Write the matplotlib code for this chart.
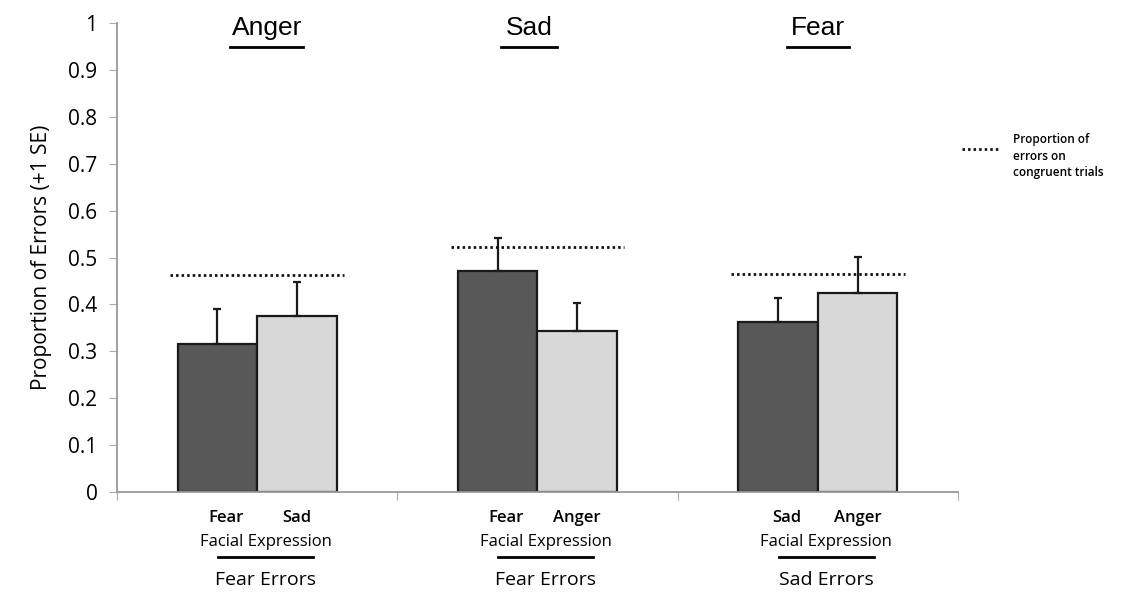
import matplotlib
matplotlib.use("Agg")
import matplotlib.pyplot as plt
from matplotlib.lines import Line2D
import matplotlib.transforms as mtransforms
import numpy as np

# emotion shown in each panel, and the error type it is scored on
panel_titles = ["Anger", "Sad", "Fear"]
error_types = ["Fear Errors", "Fear Errors", "Sad Errors"]
dark_labels = ["Fear", "Fear", "Sad"]
light_labels = ["Sad", "Anger", "Anger"]

# mean proportion of errors and +1 SE top
dark_vals = [0.316, 0.471, 0.362]
dark_err = [0.074, 0.070, 0.051]
light_vals = [0.375, 0.343, 0.424]
light_err = [0.073, 0.060, 0.077]

# congruent-trial error rate per panel
congruent = [0.463, 0.522, 0.465]

DOTS = (0, (0.9, 1.1))

fig = plt.figure(figsize=(11.28, 5.93), dpi=100)
ax = fig.add_axes([0.1037, 0.1703, 0.7455, 0.7907])

centers = np.arange(3) + 0.5
w = 0.284
dark_x = centers - w / 2
light_x = centers + w / 2

ax.bar(dark_x, dark_vals, width=w, color="#585858", edgecolor="#1a1a1a", linewidth=1.6, zorder=2)
ax.bar(light_x, light_vals, width=w, color="#d8d8d8", edgecolor="#1a1a1a", linewidth=1.6, zorder=2)
ax.errorbar(dark_x, dark_vals, yerr=[np.zeros(3), dark_err], fmt="none",
            ecolor="#1a1a1a", elinewidth=1.6, capsize=3, capthick=1.6, zorder=3)
ax.errorbar(light_x, light_vals, yerr=[np.zeros(3), light_err], fmt="none",
            ecolor="#1a1a1a", elinewidth=1.6, capsize=3, capthick=1.6, zorder=3)

# dotted congruent lines across each pair of bars
for c, v in zip(centers, congruent):
    ax.plot([c - 0.31, c + 0.31], [v, v], color="#111111", lw=2.0,
            linestyle=DOTS, dash_capstyle="butt", zorder=4)

ax.set_xlim(0, 3)
ax.set_ylim(0, 1)
ax.set_yticks(np.arange(0, 1.01, 0.1))
ax.set_yticklabels(["0", "0.1", "0.2", "0.3", "0.4", "0.5", "0.6", "0.7", "0.8", "0.9", "1"],
                   fontsize=15, family="Open Sans", weight="medium")
ax.set_xticks([0, 1, 2, 3])
ax.set_xticklabels([])
ax.tick_params(axis="y", direction="out", length=6, color="#aaaaaa", pad=8)
ax.tick_params(axis="x", direction="out", length=6, color="#aaaaaa")
for s in ["top", "right"]:
    ax.spines[s].set_visible(False)
ax.spines["left"].set_color("#999999")
ax.spines["bottom"].set_color("#999999")
ax.spines["left"].set_linewidth(1.3)
ax.spines["bottom"].set_linewidth(1.3)

ax.set_ylabel("Proportion of Errors (+1 SE)", fontsize=15, family="Open Sans", labelpad=12)

# panel titles with underlines
trans = mtransforms.blended_transform_factory(ax.transData, ax.transAxes)
title_x = [0.535, 1.47, 2.50]
title_w = [0.26, 0.20, 0.22]
for tx, tw, t in zip(title_x, title_w, panel_titles):
    ax.text(tx, 0.99, t, transform=trans, ha="center", va="center",
            fontsize=19, family="Liberation Sans", clip_on=False)
    ax.add_line(Line2D([tx - tw / 2, tx + tw / 2], [0.949, 0.949], transform=trans,
                       color="black", lw=2, clip_on=False))

# category labels under the axis
for i in range(3):
    ax.text(dark_x[i] + 0.03, -0.055, dark_labels[i], transform=trans, ha="center", va="center",
            fontsize=12, family="Open Sans", weight="semibold", clip_on=False)
    ax.text(light_x[i], -0.055, light_labels[i], transform=trans, ha="center", va="center",
            fontsize=12, family="Open Sans", weight="semibold", clip_on=False)
    ax.text(centers[i] + 0.03, -0.107, "Facial Expression", transform=trans, ha="center", va="center",
            fontsize=12, family="Open Sans", weight="medium", clip_on=False)
    ax.add_line(Line2D([centers[i] - 0.14, centers[i] + 0.20], [-0.139, -0.139], transform=trans,
                       color="black", lw=2, clip_on=False))
    ax.text(centers[i] + 0.03, -0.188, error_types[i], transform=trans, ha="center", va="center",
            fontsize=14, family="Open Sans", clip_on=False)

# legend for the dotted line, outside the plot
fig.add_artist(Line2D([962 / 1128, 1000 / 1128], [1 - 149 / 593, 1 - 149 / 593],
                      transform=fig.transFigure, color="#111111", lw=2.0,
                      linestyle=DOTS, dash_capstyle="butt"))
fig.text(1013 / 1128, 1 - 133 / 593, "Proportion of\nerrors on\ncongruent trials",
         ha="left", va="top", fontsize=8.5, family="Open Sans", weight="semibold",
         linespacing=1.35)

fig.savefig("out.png", dpi=100)
